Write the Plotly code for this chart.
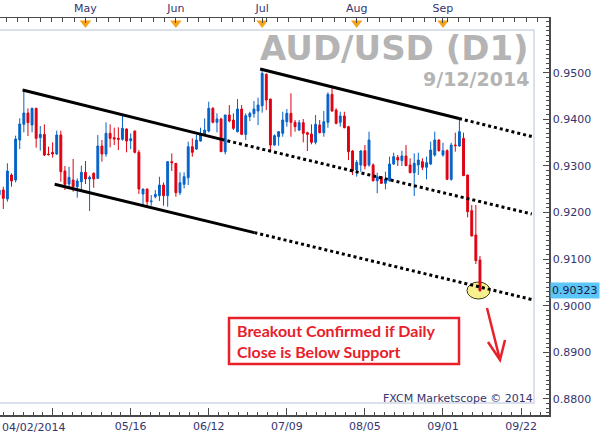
import numpy as np
import pandas as pd
import plotly.graph_objects as go

# ---------------- data ----------------
trade_dates = pd.bdate_range("2014-04-02", "2014-09-12")  # 118 daily bars

opens = [0.92380, 0.92483, 0.92290, 0.92805, 0.92697, 0.93556, 0.93892, 0.94135, 0.93878, 0.94235,
         0.93606, 0.93677, 0.93255, 0.93291, 0.93255, 0.93663, 0.92890, 0.92611, 0.92697, 0.92554,
         0.92662, 0.92862, 0.92719, 0.92841, 0.92733, 0.93427, 0.93255, 0.93699, 0.93606, 0.93592,
         0.93570, 0.93791, 0.93541, 0.93748, 0.93291, 0.92397, 0.92504, 0.92232, 0.92339, 0.92361,
         0.92590, 0.92361, 0.93091, 0.93055, 0.92425, 0.92604, 0.92747, 0.93412, 0.93362, 0.93534,
         0.93677, 0.93748, 0.94235, 0.93935, 0.94006, 0.93305, 0.94092, 0.93985, 0.93734, 0.94221,
         0.93677, 0.94056, 0.94121, 0.94178, 0.94292, 0.94965, 0.94435, 0.93448, 0.93627, 0.93699,
         0.93949, 0.94128, 0.93935, 0.93770, 0.93928, 0.93713, 0.93684, 0.93506, 0.93878, 0.93713,
         0.93935, 0.94536, 0.94199, 0.93935, 0.94071, 0.93842, 0.93320, 0.92912, 0.93019, 0.93327,
         0.93020, 0.93020, 0.92683, 0.92769, 0.92626, 0.92683, 0.93041, 0.93184, 0.93113, 0.93213,
         0.93020, 0.92855, 0.93020, 0.93091, 0.92970, 0.93041, 0.93234, 0.93556, 0.93234, 0.93327,
         0.92712, 0.93449, 0.93427, 0.93592, 0.92805, 0.92040, 0.91518, 0.90981]
highs = [0.92560, 0.92554, 0.93055, 0.92840, 0.93649, 0.94021, 0.94629, 0.94235, 0.94250, 0.94250,
         0.93856, 0.93892, 0.93413, 0.93506, 0.93756, 0.93756, 0.92998, 0.92983, 0.93148, 0.92733,
         0.93005, 0.93105, 0.92791, 0.92862, 0.93663, 0.93556, 0.93935, 0.93892, 0.93820, 0.93828,
         0.94092, 0.93806, 0.93698, 0.93760, 0.93341, 0.92510, 0.92510, 0.92375, 0.92482, 0.92768,
         0.92647, 0.93105, 0.93269, 0.93060, 0.92862, 0.92862, 0.93520, 0.93591, 0.93663, 0.93820,
         0.94020, 0.94378, 0.94263, 0.94128, 0.94035, 0.94100, 0.94306, 0.94128, 0.94435, 0.94306,
         0.94128, 0.94163, 0.94393, 0.94464, 0.95079, 0.94986, 0.94440, 0.93677, 0.93748, 0.94163,
         0.94221, 0.94557, 0.93985, 0.93985, 0.94006, 0.93734, 0.93892, 0.94092, 0.93985, 0.94178,
         0.94578, 0.94721, 0.94235, 0.94163, 0.94163, 0.93863, 0.93341, 0.93126, 0.93341, 0.93449,
         0.93735, 0.93056, 0.92855, 0.92784, 0.92877, 0.93199, 0.93284, 0.93234, 0.93327, 0.93449,
         0.93163, 0.93270, 0.93284, 0.93163, 0.93199, 0.93520, 0.93735, 0.93571, 0.93499, 0.93356,
         0.93499, 0.93714, 0.93999, 0.93714, 0.92810, 0.92161, 0.92161, 0.91067]
lows = [0.92330, 0.92075, 0.92232, 0.92554, 0.92647, 0.93363, 0.93720, 0.93642, 0.93720, 0.93391,
        0.93327, 0.93212, 0.93227, 0.93177, 0.93234, 0.92662, 0.92483, 0.92518, 0.92447, 0.92318,
        0.92447, 0.92611, 0.92032, 0.92533, 0.92719, 0.93091, 0.93198, 0.93398, 0.93448, 0.93341,
        0.93542, 0.93291, 0.93362, 0.93269, 0.92397, 0.92161, 0.92125, 0.92146, 0.92304, 0.92246,
        0.92146, 0.92125, 0.92890, 0.92339, 0.92375, 0.92518, 0.92590, 0.93198, 0.93341, 0.93520,
        0.93663, 0.93720, 0.93913, 0.93720, 0.93300, 0.93248, 0.93935, 0.93770, 0.93720, 0.93663,
        0.93556, 0.93963, 0.94035, 0.93877, 0.94142, 0.94199, 0.93341, 0.93434, 0.93434, 0.93627,
        0.93842, 0.93627, 0.93734, 0.93749, 0.93506, 0.93320, 0.93463, 0.93463, 0.93699, 0.93627,
        0.93820, 0.94163, 0.93892, 0.93842, 0.93806, 0.93126, 0.92804, 0.92769, 0.92876, 0.92927,
        0.92984, 0.92662, 0.92412, 0.92612, 0.92498, 0.92662, 0.93020, 0.92998, 0.92998, 0.92998,
        0.92841, 0.92354, 0.92805, 0.92912, 0.92712, 0.93020, 0.93199, 0.93306, 0.93199, 0.92698,
        0.92683, 0.93306, 0.93413, 0.92784, 0.91897, 0.91490, 0.90895, 0.90301]
closes = [0.92480, 0.92304, 0.92890, 0.92676, 0.93577, 0.93899, 0.94135, 0.93928, 0.94235, 0.93592,
          0.93677, 0.93234, 0.93241, 0.93255, 0.93663, 0.92876, 0.92604, 0.92755, 0.92554, 0.92676,
          0.92862, 0.92719, 0.92755, 0.92719, 0.93427, 0.93255, 0.93699, 0.93592, 0.93577, 0.93570,
          0.93806, 0.93534, 0.93584, 0.93291, 0.92504, 0.92504, 0.92232, 0.92246, 0.92389, 0.92590,
          0.92361, 0.93091, 0.93069, 0.92425, 0.92640, 0.92769, 0.93412, 0.93291, 0.93555, 0.93698,
          0.93770, 0.94235, 0.93935, 0.94006, 0.93305, 0.94092, 0.93963, 0.93806, 0.94221, 0.93677,
          0.94078, 0.94128, 0.94221, 0.94307, 0.94986, 0.94414, 0.93448, 0.93649, 0.93734, 0.93985,
          0.94128, 0.93935, 0.93842, 0.93928, 0.93699, 0.93677, 0.93506, 0.93892, 0.93713, 0.93949,
          0.94536, 0.94178, 0.93913, 0.94071, 0.93820, 0.93305, 0.92890, 0.93076, 0.93320, 0.92998,
          0.93556, 0.92683, 0.92769, 0.92626, 0.92712, 0.93041, 0.93199, 0.93127, 0.93213, 0.93005,
          0.92855, 0.93056, 0.93127, 0.92970, 0.93070, 0.93342, 0.93556, 0.93327, 0.93327, 0.92712,
          0.93449, 0.93435, 0.93735, 0.92790, 0.92018, 0.91496, 0.90967, 0.90323]

# bottom axis ticks (bar index -> label); future bars counted by calendar day
bottom_tick_idx = [13, 32, 51, 70, 89, 108, 127]
bottom_tick_text = ["", "05/16", "06/12", "07/09", "08/05", "09/01", "09/22"]
first_date_label = "04/02/2014"

# top axis month markers
month_idx = [21, 43, 64, 87, 108]
month_text = ["May", "Jun", "Jul", "Aug", "Sep"]

# y ticks
price_ticks = [0.88, 0.89, 0.90, 0.91, 0.92, 0.93, 0.94, 0.95]
last_price = 0.90323

# trend channel lines: (start idx, start price), (solid end), (dotted end)
line_a = [(5.7, 0.94629), (54.1, 0.93570), (129.6, 0.91968)]
line_b = [(13.5, 0.92605), (62.1, 0.91569), (129.6, 0.90133)]
line_c = [(63.5, 0.95079), (111.9, 0.94017), (129.6, 0.93631)]

# ---------------- styling ----------------
BLUE = "#0563c8"
RED = "#e00010"
AXIS = "#4a4a4a"
LABEL = "#34346e"
W, H = 607, 441
PL, PR, PT, PB = 0, 549, 18, 415  # plot area in pixels


def px(x):
    return (x - PL) / (PR - PL)


def py(y):
    return (PB - y) / (PB - PT)


x = np.arange(len(trade_dates))

fig = go.Figure()
fig.add_trace(go.Candlestick(
    x=x, open=opens, high=highs, low=lows, close=closes,
    increasing=dict(line=dict(color=BLUE, width=1), fillcolor=BLUE),
    decreasing=dict(line=dict(color=RED, width=1), fillcolor=RED),
    whiskerwidth=0, showlegend=False, hoverinfo="skip",
))

# orange month triangles on top axis
fig.add_trace(go.Scatter(
    x=month_idx, y=[0.96068] * len(month_idx), xaxis="x2", yaxis="y",
    mode="markers", marker=dict(symbol="triangle-down", size=10, color="#f7a21b",
                                line=dict(width=0)),
    cliponaxis=False, showlegend=False, hoverinfo="skip",
))

shapes = []
# highlight ellipse at last close
shapes.append(dict(type="circle", xref="paper", yref="paper",
                   x0=px(467), x1=px(490), y0=py(299), y1=py(282),
                   fillcolor="#f6f08e", line=dict(color="#3a3a10", width=1), layer="below"))
# light inner panel border
shapes.append(dict(type="rect", xref="paper", yref="paper",
                   x0=px(-6), x1=px(534), y0=py(403), y1=py(30),
                   line=dict(color="#cfd8e4", width=1.5), layer="below"))
for ln in (line_a, line_b, line_c):
    (x0, y0), (x1, y1), (x2, y2) = ln
    shapes.append(dict(type="line", xref="x", yref="y", x0=x0, y0=y0, x1=x1, y1=y1,
                       line=dict(color="black", width=3)))
    shapes.append(dict(type="line", xref="x", yref="y", x0=x1, y0=y1, x1=x2, y1=y2,
                       line=dict(color="black", width=3, dash="dot")))
# callout box
shapes.append(dict(type="rect", xref="paper", yref="paper",
                   x0=px(229), x1=px(459), y0=py(364), y1=py(318),
                   line=dict(color="#e8202a", width=2.5)))
# red arrow
shapes.append(dict(type="path", xref="paper", yref="paper",
                   path=(f"M{px(487)},{py(308)} L{px(500)},{py(360)} "
                         f"M{px(488)},{py(342)} L{px(500)},{py(360)} L{px(505)},{py(340)}"),
                   line=dict(color="#e8202a", width=2.5)))

annotations = [
    dict(text="AUD/USD (D1)", xref="paper", yref="paper", x=px(531), y=py(48),
         xanchor="right", yanchor="middle", showarrow=False,
         font=dict(family="DejaVu Sans", size=34, color="#b4b4b4", weight="bold")),
    dict(text="9/12/2014", xref="paper", yref="paper", x=px(531), y=py(79),
         xanchor="right", yanchor="middle", showarrow=False,
         font=dict(family="DejaVu Sans", size=19, color="#b4b4b4", weight="bold")),
    dict(text="Breakout Confirmed if Daily<br>Close is Below Support", xref="paper", yref="paper",
         x=px(235), y=py(341), xanchor="left", yanchor="middle", align="left", showarrow=False,
         font=dict(family="Lato", size=16, color="#e8202a", weight="bold")),
    dict(text="FXCM Marketscope © 2014", xref="paper", yref="paper", x=px(535), y=py(398),
         xanchor="right", yanchor="middle", showarrow=False,
         font=dict(family="DejaVu Sans", size=11, color=LABEL)),
    dict(text=first_date_label, xref="paper", yref="paper", x=px(0), y=py(427),
         xanchor="left", yanchor="middle", showarrow=False,
         font=dict(family="DejaVu Sans", size=11, color=LABEL)),
    dict(text=f"{last_price:.5f}", xref="paper", yref="y", x=1, y=last_price,
         xanchor="left", yanchor="middle", xshift=1, showarrow=False, bgcolor="#5cc6f8",
         borderpad=1, font=dict(family="DejaVu Sans", size=11, color="#1c1c3c")),
]

xrange = [0.2, 133.8]
fig.update_layout(
    width=W, height=H, autosize=False,
    margin=dict(l=PL, r=W - PR, t=PT, b=H - PB, pad=0),
    paper_bgcolor="white", plot_bgcolor="white",
    boxgap=0.35,
    showlegend=False,
    hovermode=False,
    shapes=shapes, annotations=annotations,
    font=dict(family="DejaVu Sans", size=11, color=LABEL),
    xaxis=dict(range=xrange, tickmode="array", tickvals=bottom_tick_idx, ticktext=bottom_tick_text,
               ticks="inside", ticklen=7, tickcolor=AXIS, showline=True, linecolor=AXIS,
               linewidth=1.5, showgrid=False, zeroline=False, rangeslider=dict(visible=False),
               tickfont=dict(size=11, color=LABEL),
               minor=dict(ticks="inside", ticklen=3, tickcolor=AXIS, tick0=13, dtick=19 / 8,
                          showgrid=False)),
    xaxis2=dict(range=xrange, overlaying="x", side="top", anchor="y", tickmode="array",
                tickvals=month_idx, ticktext=month_text, ticks="inside", ticklen=5,
                tickcolor=AXIS, showline=True, linecolor=AXIS, linewidth=1.5, showgrid=False,
                zeroline=False, tickfont=dict(size=11, color=LABEL),
                minor=dict(ticks="inside", ticklen=4, tickcolor=AXIS, tick0=21, dtick=2.75,
                           showgrid=False)),
    yaxis=dict(range=[0.87655, 0.96174], side="right", tickmode="array", tickvals=price_ticks,
               ticktext=[f"{v:.4f}" for v in price_ticks], ticks="inside", ticklen=6,
               tickcolor=AXIS, showline=True, linecolor=AXIS, linewidth=1.5, showgrid=False,
               zeroline=False, tickfont=dict(size=11, color=LABEL),
               minor=dict(ticks="inside", ticklen=3, tickcolor=AXIS, tick0=0.88, dtick=0.001,
                          showgrid=False)),
)

fig.write_html(
    "out.html",
    config={"displayModeBar": False, "staticPlot": True},
    post_script="document.body.style.margin='0';document.body.style.overflow='hidden';",
)
